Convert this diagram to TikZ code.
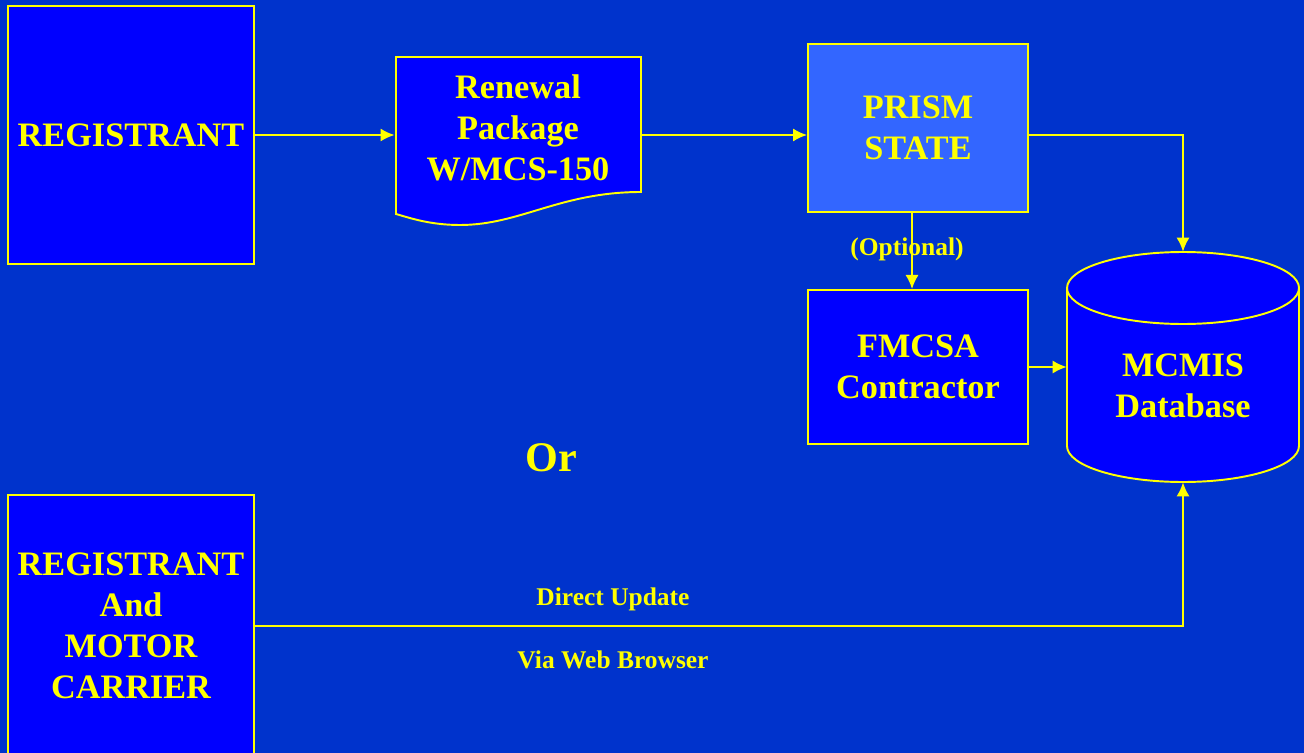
\documentclass[tikz,border=0pt]{standalone}
\usepackage{fontspec}
\setmainfont{Liberation Serif}
\usepackage{tikz}
\usetikzlibrary{calc}
\usetikzlibrary{arrows.meta}
\usetikzlibrary{positioning}
\definecolor{slide}{HTML}{0033CC}
\definecolor{boxblue}{HTML}{0000FF}
\definecolor{stateblue}{HTML}{3366FF}
\definecolor{ylw}{HTML}{FFFF00}
\tikzset{>={Latex[length=8pt,width=7.5pt]}}
\tikzstyle{blk} = [rectangle, draw=ylw, line width=1.1pt, fill=boxblue, text=ylw, align=center, font=\fontsize{19.5}{23.3}\selectfont\bfseries]
\tikzstyle{lbl} = [text=ylw, font=\fontsize{14.5}{17}\selectfont\bfseries]
\tikzstyle{flow} = [->, draw=ylw, line width=1.1pt]

\begin{document}
\begin{tikzpicture}[x=0.02cm, y=-0.02cm]
\useasboundingbox (0,0) rectangle (1304,753);
\fill [slide] (0,0) rectangle (1304,753);
% boxes on the left
\node [blk, minimum width=4.92cm, minimum height=5.16cm] (reg) at (131,135) {REGISTRANT};
\node [blk, minimum width=4.92cm, minimum height=5.24cm] (mc) at (131,626) {REGISTRANT\\And\\MOTOR\\CARRIER};
% renewal package (document shape)
\filldraw [fill=boxblue, draw=ylw, line width=1.1pt] (396,57) -- (641,57) -- (641,192)
  .. controls (560,192) and (520,225) .. (460,225)
  .. controls (430,225) and (410,218) .. (396,214) -- cycle;
\node [blk, draw=none, fill=none, minimum width=4.9cm] (pkg) at (518,128) {Renewal\\Package\\W/MCS-150};
% state and contractor
\node [blk, fill=stateblue, minimum width=4.4cm, minimum height=3.36cm] (prism) at (918,128) {PRISM\\STATE};
\node [blk, minimum width=4.4cm, minimum height=3.08cm] (fmcsa) at (918,367) {FMCSA\\Contractor};
% database cylinder
\node [minimum width=4.64cm, minimum height=4.6cm, inner sep=0pt] (db) at (1183,367) {};
\filldraw [fill=boxblue, draw=ylw, line width=1.1pt] (1067,288) -- (1067,446)
  arc [start angle=180, end angle=360, x radius=2.32cm, y radius=0.72cm] -- (1299,288)
  arc [start angle=0, end angle=180, x radius=2.32cm, y radius=0.72cm] -- cycle;
\draw [draw=ylw, line width=1.1pt] (1067,288) arc [start angle=180, end angle=360, x radius=2.32cm, y radius=0.72cm];
\node [blk, draw=none, fill=none] (dbtxt) at (1183,386) {MCMIS\\Database};
% texts
\node [text=ylw, font=\fontsize{24}{28}\selectfont\bfseries] (or) at (551,458) {Or};
\node [lbl] (opt) at (907,249) {(Optional)};
\node [lbl] (direct) at (613,599) {Direct Update};
\node [lbl] (web) at (613,660) {Via Web Browser};
% connectors
\draw [flow] (reg.east) -- (reg.east -| pkg.west);
\draw [flow] (reg.east -| pkg.east) -- (reg.east -| prism.west);
\draw [flow] (reg.east -| prism.east) -| (db.north);
\draw [flow] ([xshift=-0.12cm]prism.south) -- ([xshift=-0.12cm]fmcsa.north);
\draw [flow] (fmcsa.east) -- (db.west);
\draw [flow] (mc.east) -| (db.south);
\end{tikzpicture}
\end{document}
